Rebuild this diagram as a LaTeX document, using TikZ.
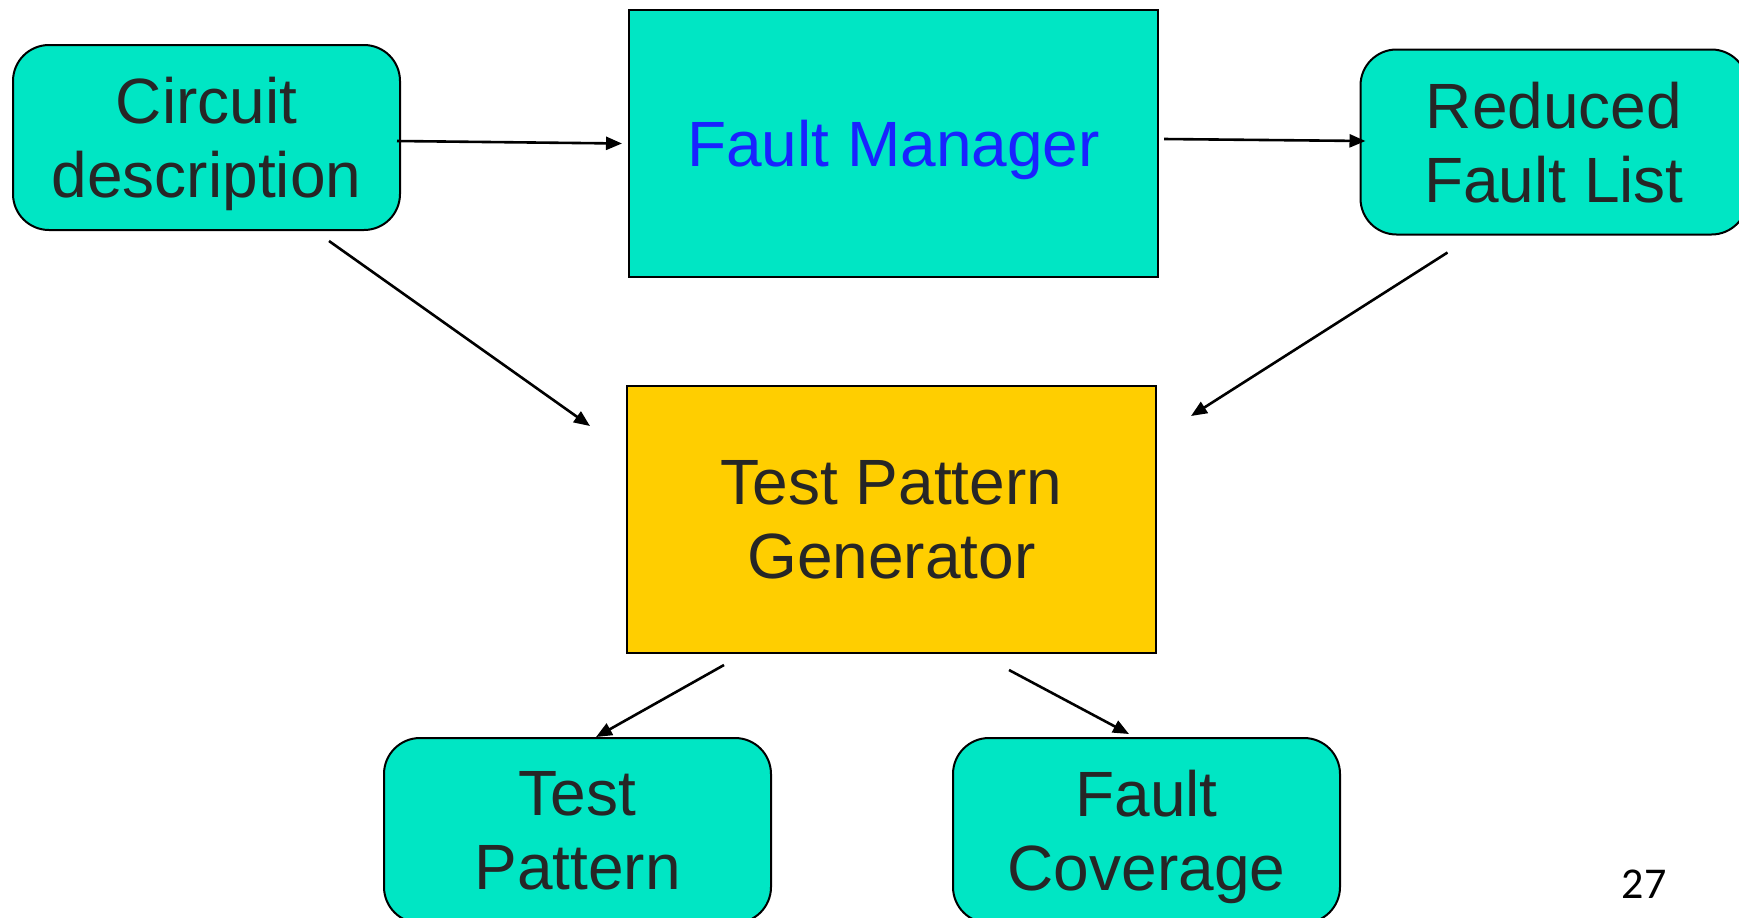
\documentclass[tikz,border=0pt]{standalone}
\usepackage{fontspec}
\setmainfont{Liberation Sans}
\newfontfamily\numfont{Carlito}
\usetikzlibrary{positioning}
\usetikzlibrary{arrows.meta}
\usetikzlibrary{calc}

\definecolor{boxcyan}{RGB}{0,230,196}
\definecolor{boxyellow}{RGB}{255,206,0}
\definecolor{txtgray}{RGB}{38,38,38}
\definecolor{fmblue}{RGB}{25,35,255}

\begin{document}
\begin{tikzpicture}[x=0.5pt, y=-0.5pt,
  rbox/.style={draw, line width=1pt, fill=boxcyan, rounded corners=18pt, minimum width=193.5pt, minimum height=92.5pt, align=center, text=txtgray, font=\fontsize{32}{37}\selectfont, inner sep=0pt, text depth=0pt},
  sbox/.style={draw, line width=1pt, minimum width=264.5pt, minimum height=133.5pt, align=center, font=\fontsize{32}{37}\selectfont, inner sep=0pt},
  arr/.style={-{Triangle[length=8pt,width=6.5pt]}, line width=1.3pt}]

 \useasboundingbox (0,0) rectangle (1739,917);
 \clip (0,0) rectangle (1739,917);

 %top row
 \node[rbox] (circ) at (206.5,137.5) {Circuit\\description};
 \node[sbox, fill=boxcyan, text=fmblue, text depth=0pt] (fm) at (893.5,143.5) {Fault Manager};
 \node[rbox] (red) at (1554,142) {Reduced\\Fault List};

 %middle
 \node[sbox, fill=boxyellow, text=txtgray] (tpg) at (891.5,519.5) {Test Pattern\\Generator};

 %bottom row
 \node[rbox] (tp) at (577.5,830.5) {Test\\Pattern};
 \node[rbox] (fc) at (1146.5,830.5) {Fault\\Coverage};

 \node[font=\numfont\fontsize{22}{26}\selectfont, text=black] (pg) at (1644,884) {27};

 %arrows
 \draw[arr] ($(circ.east)+(-4,3.5)$) -- ($(fm.west)+(-6,0)$);
 \draw[arr] ($(fm.east)+(5,-4.5)$) -- ($(red.west)+(6,-1)$);
 \draw[arr] ($(circ.south east)+(-72,10)$) -- ($(tpg.north west)+(-36,41)$);
 \draw[arr] ($(red.south west)+(88,17)$) -- ($(tpg.north east)+(34,31)$);
 \draw[arr] ($(tpg.south west)+(98,11)$) -- ($(tp.north)+(18.5,0)$);
 \draw[arr] ($(tpg.south east)+(-148,16)$) -- ($(fc.north)+(-17.5,-3)$);

\end{tikzpicture}
\end{document}
